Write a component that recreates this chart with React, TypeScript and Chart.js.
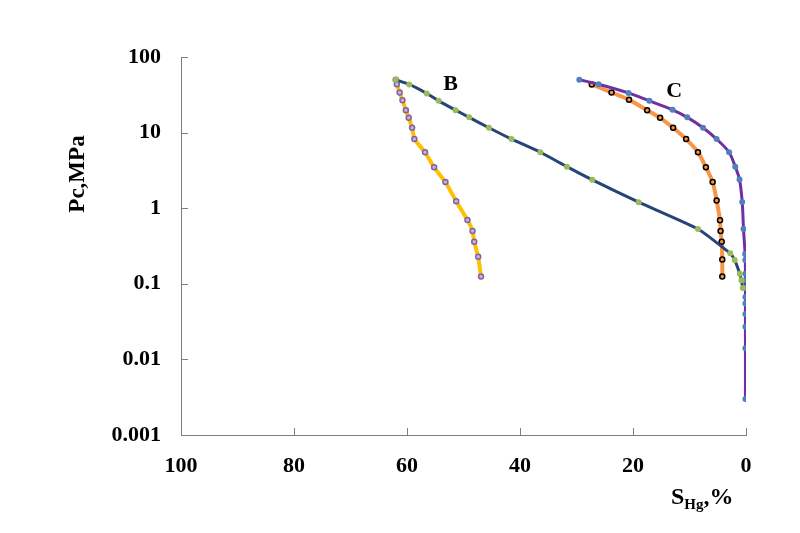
import React, { useEffect, useRef } from "react";
import { Chart, registerables } from "chart.js";

Chart.register(...registerables);

// Sample B — injection (blue line, green markers)
const bInjX = [62.0, 59.6, 56.5, 54.4, 51.4, 49.0, 45.5, 41.5, 36.4, 31.7, 27.2, 19.0, 8.5, 2.8, 2.0, 1.1, 0.8, 0.57];
const bInjY = [50, 43.3, 32.9, 26.3, 19.8, 15.9, 11.6, 8.2, 5.5, 3.54, 2.37, 1.2, 0.53, 0.253, 0.206, 0.136, 0.111, 0.088];
// Sample B — withdrawal (yellow line, purple markers)
const bWdX = [62.0, 61.8, 61.3, 60.8, 60.2, 59.7, 59.1, 58.7, 56.8, 55.2, 53.2, 51.3, 49.3, 48.4, 48.1, 47.4, 46.9];
const bWdY = [50, 43.7, 33.8, 26.8, 19.8, 15.7, 11.6, 8.2, 5.48, 3.47, 2.22, 1.24, 0.70, 0.50, 0.36, 0.228, 0.125];
// Sample C — injection (purple line, blue markers)
const cInjX = [29.5, 26.1, 20.8, 17.1, 13.0, 10.4, 7.6, 5.2, 3.0, 1.9, 1.15, 0.67, 0.44, 0.15, 0.12, 0.1, 0.1, 0.1, 0.1, 0.1, 0.1, 0.1, 0.1, 0.1];
const cInjY = [50, 43.7, 33.5, 26.3, 20.0, 15.9, 11.6, 8.2, 5.5, 3.54, 2.4, 1.21, 0.53, 0.247, 0.206, 0.136, 0.111, 0.088, 0.067, 0.055, 0.040, 0.027, 0.014, 0.003];
// Sample C — withdrawal (orange line, black markers)
const cWdX = [27.3, 23.8, 20.7, 17.5, 15.2, 12.9, 10.6, 8.5, 7.1, 5.9, 5.2, 4.6, 4.5, 4.3, 4.2, 4.2];
const cWdY = [43.3, 33.9, 27.1, 19.8, 15.7, 11.6, 8.2, 5.5, 3.47, 2.22, 1.26, 0.694, 0.50, 0.36, 0.21, 0.125];

const yTickValues = [0.001, 0.01, 0.1, 1, 10, 100];
const xTickValues = [0, 20, 40, 60, 80, 100];

const curveLabels = ["B", "C"];
const curveLabelX = [52.3, 12.7];
const curveLabelY = [43.3, 35.5];

const yTitle = "Pc,MPa";
const xTitleMain = "S";
const xTitleSub = "Hg";
const xTitleTail = ",%";

const SERIF = "'Times New Roman', 'Liberation Serif', serif";

const pts = (xs: number[], ys: number[]) => xs.map((x, i) => ({ x, y: ys[i] }));

export default function App() {
  const ref = useRef<HTMLCanvasElement | null>(null);

  useEffect(() => {
    if (!ref.current) return;
    const decorations = {
      id: "decorations",
      afterDraw(chart: any) {
        const ctx = chart.ctx;
        const xs = chart.scales.x;
        const ys = chart.scales.y;
        const area = chart.chartArea;
        ctx.save();
        // inside tick marks
        ctx.strokeStyle = "#7f7f7f";
        ctx.lineWidth = 1;
        ctx.beginPath();
        for (const v of yTickValues) {
          const py = Math.round(ys.getPixelForValue(v)) + 0.5;
          ctx.moveTo(area.left, py);
          ctx.lineTo(area.left + 7, py);
        }
        for (const v of xTickValues) {
          const px = Math.round(xs.getPixelForValue(v)) + 0.5;
          ctx.moveTo(px, area.bottom);
          ctx.lineTo(px, area.bottom - 7);
        }
        ctx.stroke();
        // curve labels
        ctx.fillStyle = "#000";
        ctx.font = `bold 22px ${SERIF}`;
        ctx.textAlign = "center";
        ctx.textBaseline = "middle";
        curveLabels.forEach((t, i) => {
          ctx.fillText(t, xs.getPixelForValue(curveLabelX[i]), ys.getPixelForValue(curveLabelY[i]));
        });
        // y title
        ctx.save();
        ctx.translate(78, 174);
        ctx.rotate(-Math.PI / 2);
        ctx.font = `bold 23px ${SERIF}`;
        ctx.fillText(yTitle, 0, 0);
        ctx.restore();
        // x title with subscript
        ctx.textAlign = "left";
        ctx.textBaseline = "alphabetic";
        let x = 671;
        const base = 504;
        ctx.font = `bold 24px ${SERIF}`;
        ctx.fillText(xTitleMain, x, base);
        x += ctx.measureText(xTitleMain).width;
        ctx.font = `bold 15px ${SERIF}`;
        ctx.fillText(xTitleSub, x, base + 5);
        x += ctx.measureText(xTitleSub).width;
        ctx.font = `bold 24px ${SERIF}`;
        ctx.fillText(xTitleTail, x, base);
        ctx.restore();
      },
    };

    const chart = new Chart(ref.current, {
      type: "line",
      data: {
        datasets: [
          {
            data: pts(bInjX, bInjY),
            borderColor: "#264478",
            borderWidth: 3,
            pointRadius: 3,
            pointBackgroundColor: "#9BBB59",
            pointBorderColor: "#9BBB59",
            pointBorderWidth: 0,
            tension: 0.15,
            fill: false,
          },
          {
            data: pts(cInjX, cInjY),
            borderColor: "#7030A0",
            borderWidth: 3,
            pointRadius: 3,
            pointBackgroundColor: "#4F81BD",
            pointBorderColor: "#4F81BD",
            pointBorderWidth: 0,
            tension: 0.3,
            fill: false,
          },
          {
            data: pts(bWdX, bWdY),
            borderColor: "#FFC000",
            borderWidth: 4,
            pointRadius: 2.5,
            pointBackgroundColor: "#c8b0d8",
            pointBorderColor: "#8064A2",
            pointBorderWidth: 1.5,
            tension: 0.1,
            fill: false,
          },
          {
            data: pts(cWdX, cWdY),
            borderColor: "#F79646",
            borderWidth: 4,
            pointRadius: 2.5,
            pointBackgroundColor: "#F79646",
            pointBorderColor: "#000000",
            pointBorderWidth: 1.5,
            tension: 0.3,
            fill: false,
          },
        ],
      },
      options: {
        animation: false,
        responsive: true,
        maintainAspectRatio: false,
        layout: { padding: { top: 57, right: 54, bottom: 0, left: 0 } },
        plugins: { legend: { display: false }, tooltip: { enabled: false } },
        scales: {
          x: {
            type: "linear",
            reverse: true,
            min: 0,
            max: 100,
            afterFit: (s: any) => {
              s.height = 98;
            },
            afterBuildTicks: (s: any) => {
              s.ticks = xTickValues.map((v) => ({ value: v }));
            },
            ticks: {
              color: "#000",
              padding: 18,
              maxRotation: 0,
              font: { family: SERIF, size: 22, weight: "bold" },
            },
            grid: { display: true, drawOnChartArea: false, drawTicks: false },
            border: { display: true, color: "#7f7f7f", width: 1 },
          },
          y: {
            type: "logarithmic",
            min: 0.001,
            max: 100,
            afterFit: (s: any) => {
              s.width = 181;
            },
            afterBuildTicks: (s: any) => {
              s.ticks = yTickValues.map((v) => ({ value: v }));
            },
            ticks: {
              color: "#000",
              padding: 20,
              font: { family: SERIF, size: 22, weight: "bold" },
              callback: (v: any) => String(Number(v)),
            },
            grid: { display: true, drawOnChartArea: false, drawTicks: false },
            border: { display: true, color: "#7f7f7f", width: 1 },
          },
        },
      },
      plugins: [decorations],
    } as any);
    return () => chart.destroy();
  }, []);

  return (
    <div style={{ position: "fixed", left: 0, top: 0, width: 800, height: 533, background: "#fff" }}>
      <canvas ref={ref} />
    </div>
  );
}
